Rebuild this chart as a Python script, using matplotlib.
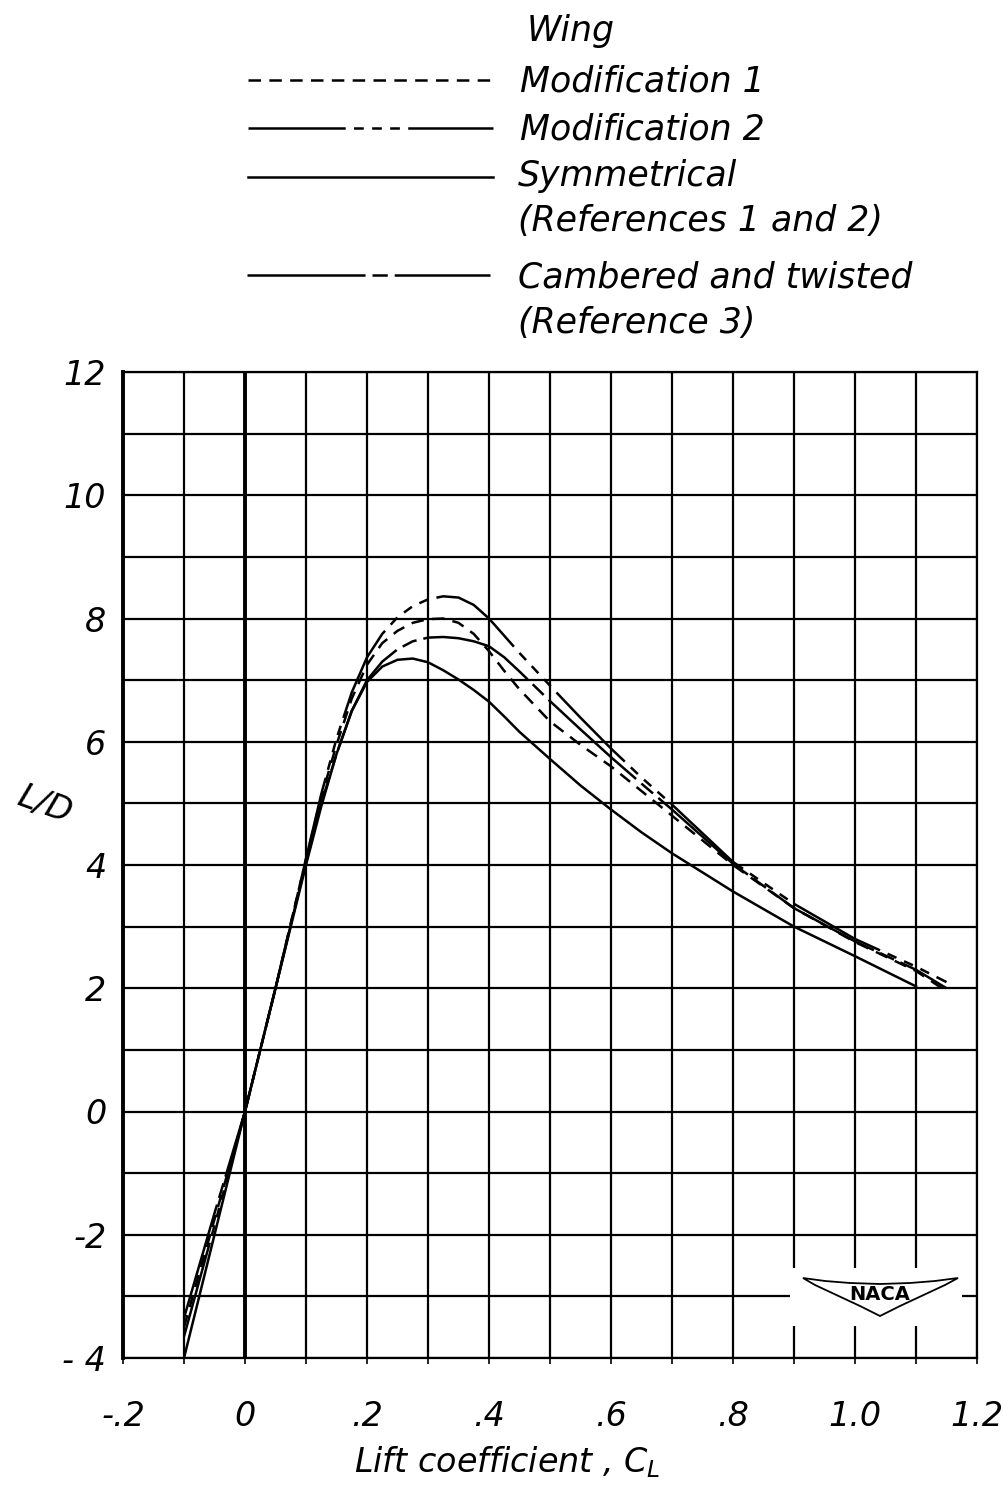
import matplotlib
matplotlib.use("Agg")
import matplotlib.pyplot as plt
from matplotlib.lines import Line2D
from matplotlib.patches import Rectangle, Polygon

plt.rcParams['font.family'] = ['DejaVu Sans']
plt.rcParams['mathtext.fontset'] = 'dejavusans'
plt.rcParams['lines.scale_dashes'] = False

# ---------------- data ----------------
cl = [-0.1, -0.05, 0.0, 0.05, 0.1, 0.125, 0.15, 0.175, 0.2, 0.225, 0.25, 0.275,
      0.3, 0.325, 0.35, 0.375, 0.4, 0.425, 0.45, 0.5, 0.55, 0.6, 0.65, 0.7,
      0.8, 0.9, 1.0, 1.1, 1.15]

ld_mod1 = [-3.5, -1.75, 0.0, 2.0, 4.1, 5.1, 5.95, 6.7, 7.25, 7.6, 7.8, 7.93,
           7.99, 8.0, 7.93, 7.75, 7.47, 7.15, 6.85, 6.33, 5.95, 5.6, 5.2, 4.8,
           4.0, 3.3, 2.75, 2.28, 1.95]

ld_mod2 = [-3.65, -1.85, 0.0, 2.0, 4.1, 5.15, 6.05, 6.8, 7.37, 7.75, 8.02, 8.2,
           8.31, 8.36, 8.34, 8.22, 8.0, 7.72, 7.44, 6.91, 6.39, 5.89, 5.42, 4.98,
           4.05, 3.37, 2.8, 2.35, 2.1]

ld_camb = [-3.35, -1.65, 0.0, 2.0, 4.05, 5.0, 5.8, 6.5, 7.0, 7.3, 7.5, 7.63,
           7.69, 7.7, 7.68, 7.63, 7.55, 7.37, 7.14, 6.66, 6.2, 5.75, 5.32, 4.9,
           4.02, 3.3, 2.76, 2.3, 2.0]

cl_sym = [-0.1, -0.05, 0.0, 0.05, 0.1, 0.125, 0.15, 0.175, 0.2, 0.225, 0.25, 0.275,
          0.3, 0.325, 0.35, 0.375, 0.4, 0.425, 0.45, 0.5, 0.55, 0.6, 0.65, 0.7,
          0.8, 0.9, 1.0, 1.1]
ld_sym = [-4.0, -2.0, 0.0, 2.0, 4.0, 4.95, 5.8, 6.5, 6.97, 7.22, 7.33, 7.35,
          7.29, 7.16, 7.01, 6.84, 6.65, 6.41, 6.16, 5.72, 5.29, 4.9, 4.53, 4.19,
          3.57, 3.0, 2.52, 2.03]

x_ticks = [-0.2, 0.0, 0.2, 0.4, 0.6, 0.8, 1.0, 1.2]
x_tick_labels = ['-.2', '0', '.2', '.4', '.6', '.8', '1.0', '1.2']
y_ticks = [-4, -2, 0, 2, 4, 6, 8, 10, 12]
y_tick_labels = ['- 4', '-2', '0', '2', '4', '6', '8', '10', '12']

legend_title = 'Wing'
legend_labels = ['Modification 1', 'Modification 2',
                 'Symmetrical\n(References 1 and 2)',
                 'Cambered and twisted\n(Reference 3)']

# ---------------- styles ----------------
dash_mod1 = (9, 6)
dash_mod2 = (70, 6, 7, 6, 7, 6, 7, 6)
dash_camb = (85, 5, 11, 5)

W, H = 1004, 1501
fig = plt.figure(figsize=(W / 100, H / 100), dpi=100)
fig.patch.set_facecolor('white')

def fx(px):
    return px / W

def fy(py):
    return 1 - py / H

left_px, right_px, top_px, bot_px = 123, 977, 372, 1358
ax = fig.add_axes([fx(left_px), fy(bot_px), (right_px - left_px) / W, (bot_px - top_px) / H])
ax.set_xlim(-0.2, 1.2)
ax.set_ylim(-4, 12)

# grid
ax.set_xticks(x_ticks)
ax.set_xticklabels(x_tick_labels)
ax.set_xticks([x / 10 for x in range(-2, 13)], minor=True)
ax.set_yticks(y_ticks)
ax.set_yticklabels(y_tick_labels)
ax.set_yticks(list(range(-4, 13)), minor=True)
ax.grid(True, which='both', color='black', linewidth=1.6, zorder=1)
ax.set_axisbelow(True)
ax.axvline(0, color='black', linewidth=2.8, zorder=1.5)

for s in ['top', 'right', 'bottom']:
    ax.spines[s].set_linewidth(1.6)
ax.spines['left'].set_linewidth(2.8)

ax.tick_params(axis='x', which='both', length=4, width=1.2, direction='out',
               pad=26, labelsize=24)
ax.tick_params(axis='y', which='both', length=0, pad=12, labelsize=24)
for lab in ax.get_xticklabels() + ax.get_yticklabels():
    lab.set_fontstyle('italic')

lw = 1.8
ax.plot(cl, ld_mod1, color='black', linewidth=lw, dashes=dash_mod1, zorder=3)
ax.plot(cl, ld_mod2, color='black', linewidth=lw, dashes=dash_mod2, zorder=3)
ax.plot(cl_sym, ld_sym, color='black', linewidth=lw, linestyle='-', zorder=3)
ax.plot(cl, ld_camb, color='black', linewidth=lw, dashes=dash_camb, zorder=3)

# NACA logo
def axf(px, py):
    return ((px - left_px) / (right_px - left_px), (bot_px - py) / (bot_px - top_px))

x0, y0 = axf(790, 1326)
x1, y1 = axf(962, 1268)
ax.add_patch(Rectangle((x0, y0), x1 - x0, y1 - y0, transform=ax.transAxes,
                       facecolor='white', edgecolor='none', zorder=4))
wing_px = [(803, 1278), (825, 1281), (850, 1283), (880, 1284), (910, 1283),
           (935, 1281), (958, 1278), (945, 1285), (930, 1292), (915, 1299),
           (900, 1306), (888, 1312), (880, 1316), (872, 1312), (860, 1306),
           (845, 1299), (830, 1292), (815, 1285)]
ax.add_patch(Polygon([axf(p, q) for p, q in wing_px], closed=True, transform=ax.transAxes,
                     facecolor='white', edgecolor='black', linewidth=1.3, zorder=5))
cx, cy = axf(880, 1294)
ax.text(cx, cy, 'NACA', transform=ax.transAxes, ha='center', va='center',
        fontsize=14, fontweight='bold', zorder=6)

# axis labels
fig.text(fx(507), fy(1462), r'Lift coefficient , $C_L$', ha='center', va='center',
         fontsize=24, fontstyle='italic')
fig.text(fx(45), fy(805), 'L/D', ha='center', va='center', fontsize=24,
         fontstyle='italic', rotation=-20)

# legend (drawn above the axes)
fs_leg = 25
fig.text(fx(527), fy(31), legend_title, ha='left', va='center', fontsize=fs_leg,
         fontstyle='italic')
leg_rows = [(80, 248, 490, dash_mod1, 520, [82]),
            (128, 248, 493, dash_mod2, 520, [130]),
            (177, 248, 493, None, 518, [176, 221]),
            (275, 247, 490, dash_camb, 518, [278, 323])]
for (ly, lx0, lx1, dsh, tx, tys), label in zip(leg_rows, legend_labels):
    ln = Line2D([fx(lx0), fx(lx1)], [fy(ly), fy(ly)], transform=fig.transFigure,
                color='black', linewidth=lw)
    if dsh is not None:
        ln.set_dashes(dsh)
    fig.add_artist(ln)
    for txt, ty in zip(label.split('\n'), tys):
        fig.text(fx(tx), fy(ty), txt, ha='left', va='center', fontsize=fs_leg,
                 fontstyle='italic')

fig.savefig('out.png', dpi=100, facecolor='white')
